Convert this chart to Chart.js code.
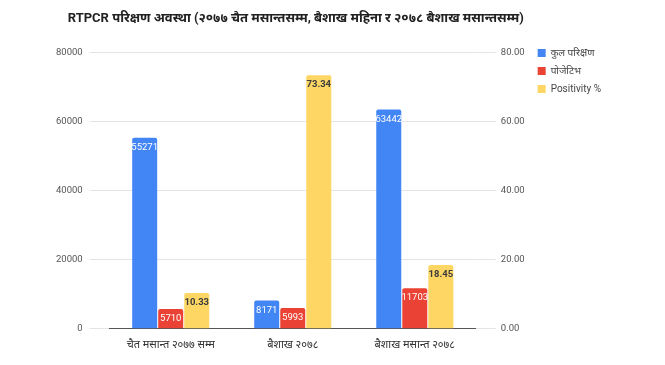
<!DOCTYPE html>
<html>
<head>
<meta charset="utf-8">
<script src="https://cdn.jsdelivr.net/npm/chart.js@4.4.1/dist/chart.umd.min.js"></script>
<style>
  html, body { margin: 0; padding: 0; background: #fff; }
  #wrap { width: 665px; height: 365px; }
</style>
</head>
<body>
<div id="wrap"><canvas id="rtpcr"></canvas></div>
<script>
const categories = ["चैत मसान्त २०७७ सम्म", "बैशाख २०७८", "बैशाख मसान्त २०७८"];
const totalTests = [55271, 8171, 63442];
const positives = [5710, 5993, 11703];
const positivity = [10.33, 73.34, 18.45];
const seriesNames = ["कुल परिक्षण", "पोजेटिभ", "Positivity %"];
const chartTitle = "RTPCR परिक्षण अवस्था (२०७७ चैत मसान्तसम्म, बैशाख महिना र २०७८ बैशाख मसान्तसम्म)";

const fontFamily = "Roboto, 'Noto Sans', Arial, sans-serif";

// labels written inside the top of each bar
const barLabels = {
    id: "barLabels",
    afterDatasetsDraw(chart) {
        const ctx = chart.ctx;
        chart.data.datasets.forEach((ds, i) => {
            chart.getDatasetMeta(i).data.forEach((bar, j) => {
                let text = i == 2 ? ds.data[j].toFixed(2) : String(ds.data[j]);
                ctx.save();
                ctx.textAlign = "center";
                ctx.textBaseline = "top";
                if (i == 2) {
                    ctx.font = "bold 9.5px " + fontFamily;
                    ctx.fillStyle = "#3c3c3c";
                } else {
                    ctx.font = "9.5px " + fontFamily;
                    ctx.fillStyle = "#ffffff";
                }
                ctx.fillText(text, bar.x, bar.y + 5);
                ctx.restore();
            });
        });
    }
};

// title text centred over the plot, allowed to run wider than it
const wideTitle = {
    id: "wideTitle",
    afterDraw(chart) {
        const ctx = chart.ctx;
        const block = chart.titleBlock;
        ctx.save();
        ctx.font = "bold 13px " + fontFamily;
        ctx.fillStyle = "#222";
        ctx.textAlign = "center";
        ctx.textBaseline = "middle";
        let x = (chart.chartArea.left + chart.chartArea.right) / 2 + 3;
        let y = block.top + 2 + 11;
        ctx.fillText(chartTitle, x, y);
        ctx.restore();
    }
};

const ctx = document.getElementById("rtpcr");
new Chart(ctx, {
    type: "bar",
    data: {
        labels: categories,
        datasets: [
            { label: seriesNames[0], data: totalTests, backgroundColor: "#4285f4", yAxisID: "y" },
            { label: seriesNames[1], data: positives, backgroundColor: "#ea4335", yAxisID: "y" },
            { label: seriesNames[2], data: positivity, backgroundColor: "#fdd663", yAxisID: "y1" }
        ]
    },
    options: {
        responsive: true,
        maintainAspectRatio: false,
        animation: false,
        datasets: {
            bar: { categoryPercentage: 0.64, barPercentage: 0.96, borderRadius: 2 }
        },
        layout: { padding: { left: 49, right: 54, top: 6, bottom: 11 } },
        plugins: {
            // only reserves the space, wideTitle draws the text
            title: {
                display: true,
                fullSize: false,
                text: " ",
                font: { family: fontFamily, size: 16, weight: "bold" },
                padding: { top: 2, bottom: 25 }
            },
            legend: {
                position: "right",
                align: "start",
                title: { display: true, text: " ", font: { size: 10 }, padding: 11 },
                labels: {
                    boxWidth: 8,
                    boxHeight: 8,
                    padding: 8,
                    color: "#444",
                    font: { family: fontFamily, size: 10 }
                }
            },
            tooltip: { enabled: false }
        },
        scales: {
            x: {
                grid: { display: false },
                border: { color: "#555" },
                ticks: { color: "#333", padding: 2, font: { family: fontFamily, size: 11 } }
            },
            y: {
                position: "left",
                min: 0,
                max: 80000,
                ticks: {
                    stepSize: 20000,
                    color: "#555",
                    padding: 7,
                    font: { family: fontFamily, size: 9.5 },
                    callback: (v) => String(v)
                },
                grid: { color: "#e4e4e4", tickLength: 20 },
                border: { display: false }
            },
            y1: {
                position: "right",
                min: 0,
                max: 80,
                ticks: {
                    stepSize: 20,
                    color: "#555",
                    padding: 5,
                    font: { family: fontFamily, size: 9.5 },
                    callback: (v) => Number(v).toFixed(2)
                },
                grid: { color: "#e4e4e4", drawOnChartArea: false, tickLength: 20 },
                border: { display: false }
            }
        }
    },
    plugins: [barLabels, wideTitle]
});
</script>
</body>
</html>
